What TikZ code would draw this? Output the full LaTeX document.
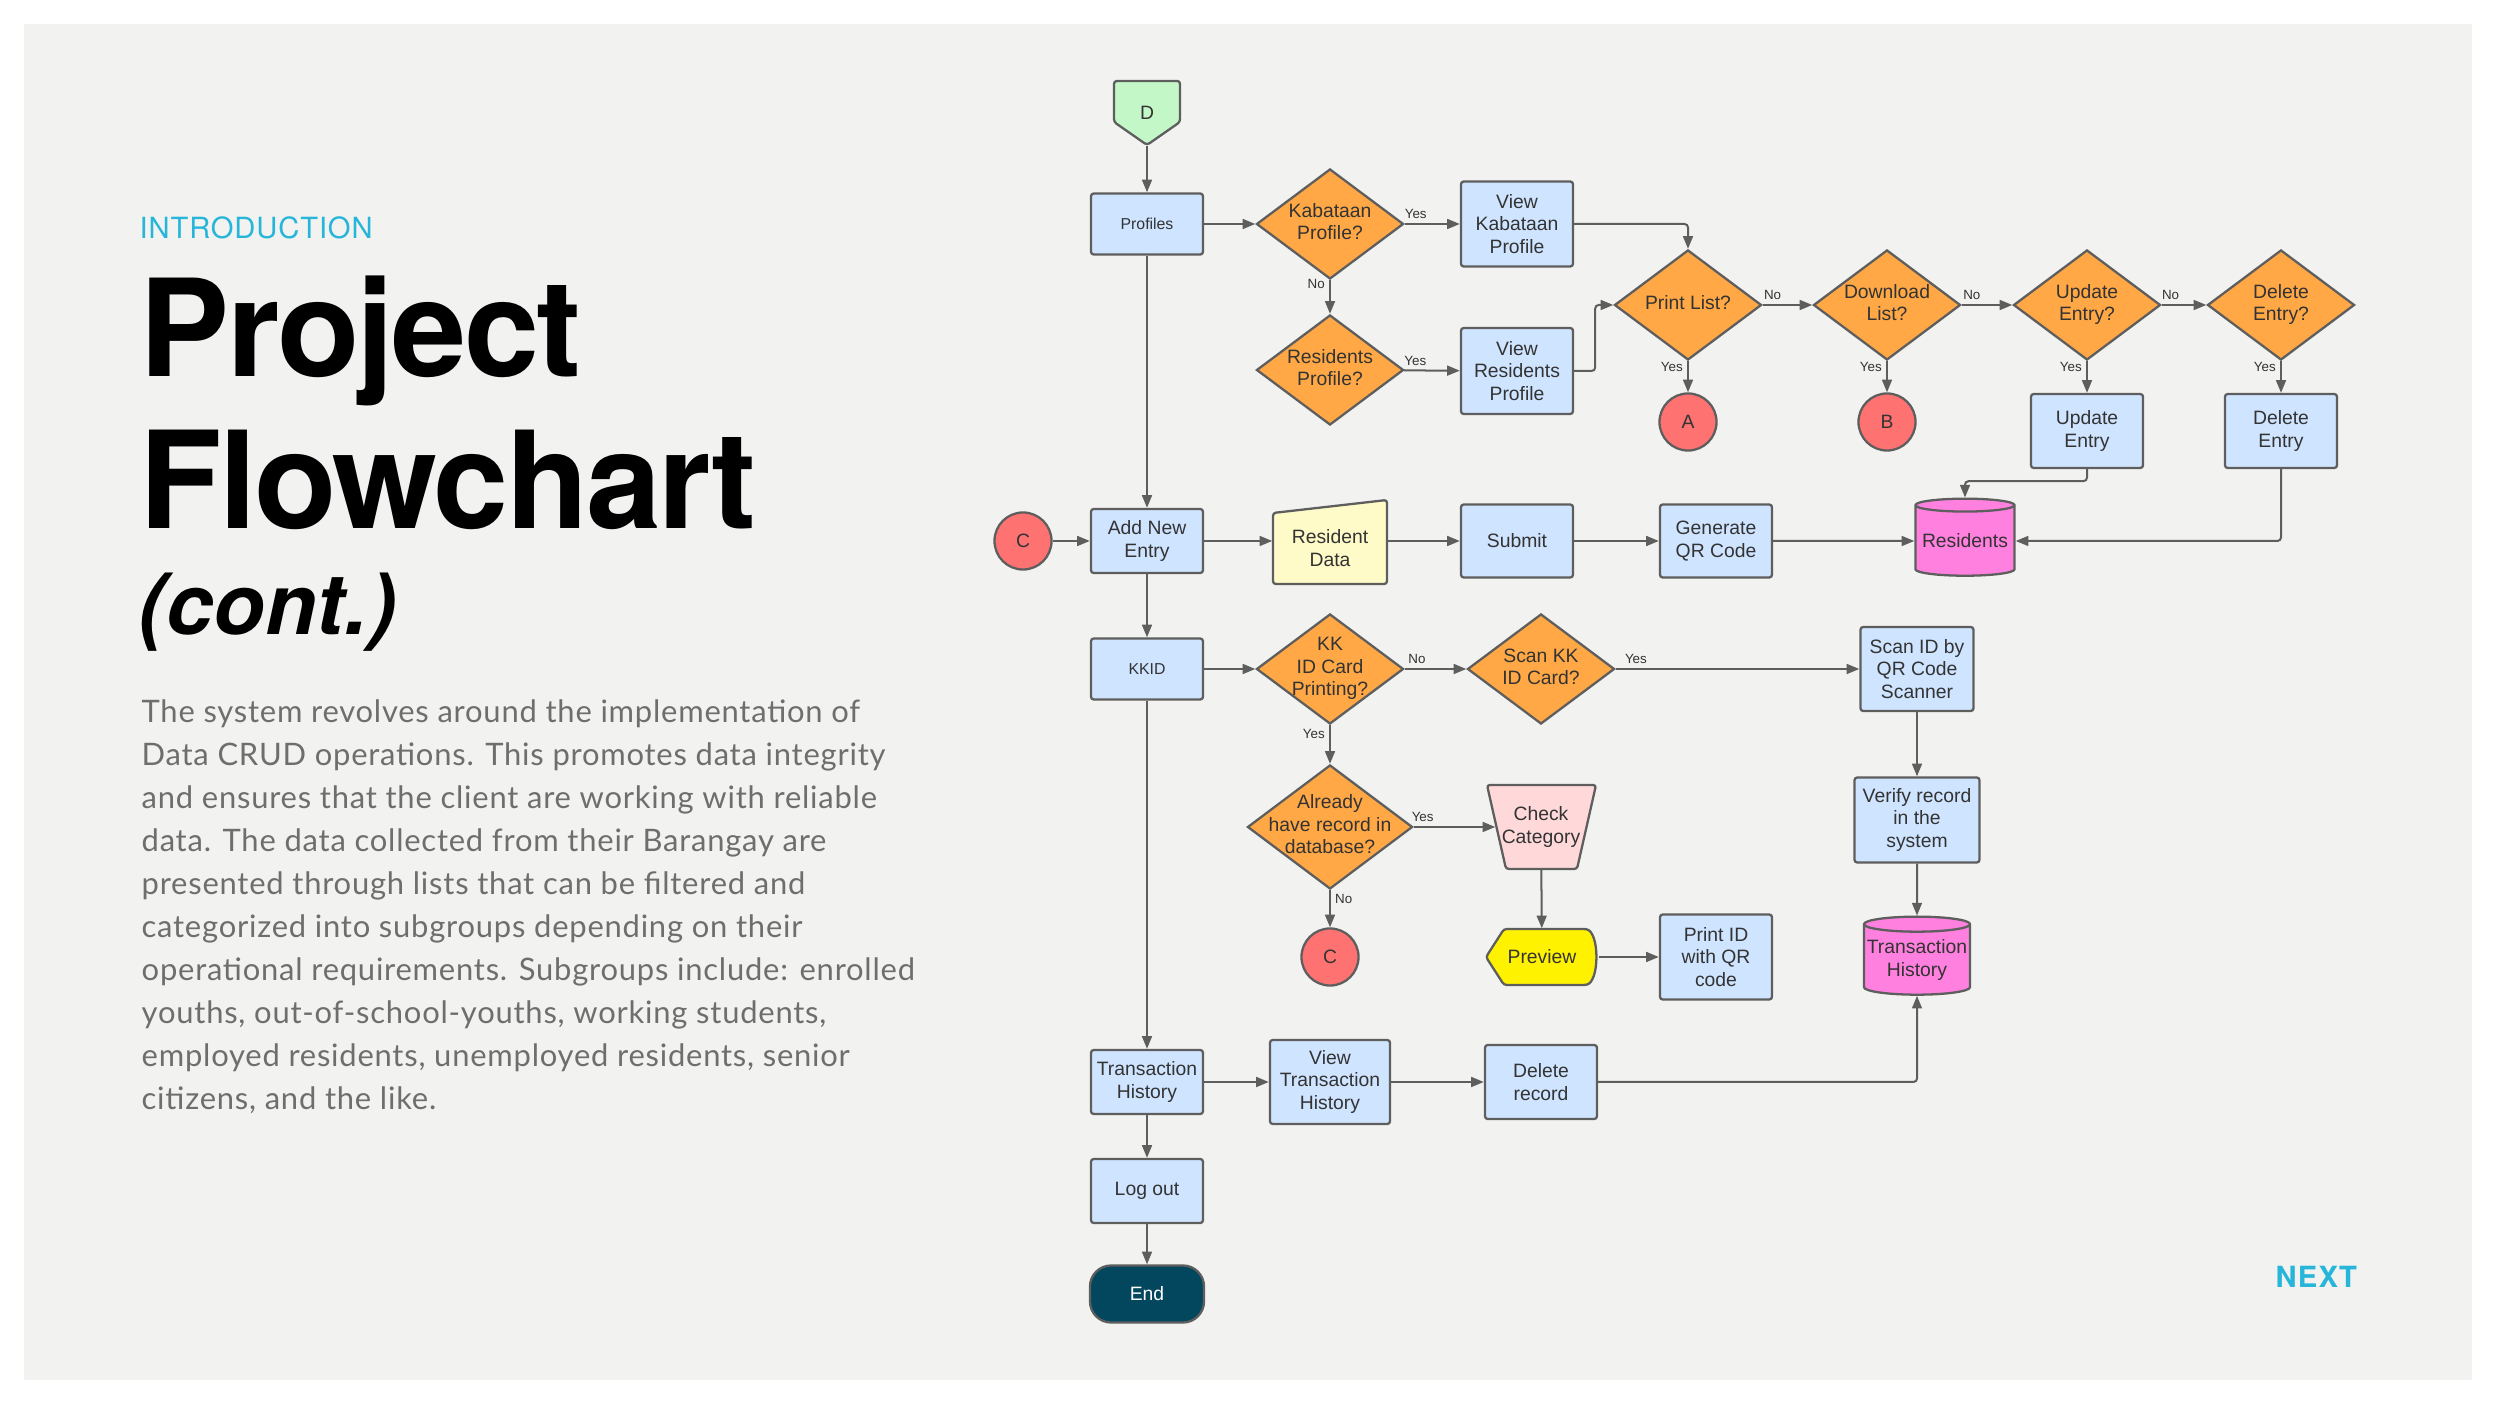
\documentclass[tikz,border=0pt]{standalone}
\usepackage{fontspec}
\setmainfont{Liberation Sans}
\newfontfamily\headfont{TeX Gyre Heros}
\newfontfamily\bodyfont{Lato}[LetterSpace=2.5]
\usetikzlibrary{arrows.meta,shapes.geometric}

\definecolor{panel}{HTML}{F2F2F0}
\definecolor{accent}{HTML}{27B6DA}
\definecolor{bodygray}{HTML}{6E6E6E}
\definecolor{edge}{HTML}{5E5E5E}
\definecolor{txt}{HTML}{333333}
\definecolor{boxblue}{HTML}{CFE4FF}
\definecolor{decor}{HTML}{FFA845}
\definecolor{conred}{HTML}{FF7272}
\definecolor{dbpink}{HTML}{FF80DF}
\definecolor{offgreen}{HTML}{C3F7C8}
\definecolor{inyellow}{HTML}{FFFBC8}
\definecolor{chkpink}{HTML}{FFD9D9}
\definecolor{prevyellow}{HTML}{FFF200}
\definecolor{endblue}{HTML}{03475F}

\newcommand\nf{\fontsize{5.5}{6.35}\selectfont}
\newcommand\dtxt[1]{\makebox[0pt]{\raisebox{-1.2pt}[0pt][0pt]{\begin{tabular}{@{}c@{}}#1\end{tabular}}}}

\tikzset{
  proc/.style={draw=edge, fill=boxblue, line width=0.65pt, rounded corners=0.8pt,
    minimum width=1.12cm, inner sep=1pt, align=center, font=\nf, text=txt},
  dec/.style={diamond, draw=edge, fill=decor, line width=0.65pt, minimum width=1.47cm,
    minimum height=1.1cm, inner sep=0pt, font=\nf, text=txt},
  conn/.style={circle, draw=edge, fill=conred, line width=0.65pt, minimum size=0.57cm,
    inner sep=0pt, font=\nf, text=txt},
  store/.style={cylinder, shape border rotate=90, aspect=0.15, draw=edge, fill=dbpink,
    line width=0.65pt, inner sep=0pt, align=center, font=\nf, text=txt},
  shp/.style={draw=edge, line width=0.65pt, rounded corners=0.8pt},
  bare/.style={inner sep=0pt, align=center, font=\nf, text=txt},
  flow/.style={draw=edge, line width=0.57pt, rounded corners=1pt,
    -{Triangle[length=3.6pt,width=2.8pt]}},
  lab/.style={font=\fontsize{3.8}{4}\selectfont, inner sep=1.2pt, text=txt},
  body/.style={inner sep=0pt, text=bodygray, font=\bodyfont\fontsize{8.8}{12.2}\selectfont},
}

\begin{document}
\begin{tikzpicture}[x=0.01cm, y=-0.01cm]
\useasboundingbox (0,0) rectangle (2496,1404);
\fill[white] (0,0) rectangle (2496,1404);
\fill[panel] (24,24) rectangle (2472,1380);

% left column
\node[anchor=base west, inner sep=0pt, text=accent,
  font=\headfont\fontsize{8.3}{9}\selectfont\addfontfeature{LetterSpace=3}] (intro) at (139,239) {INTRODUCTION};
\node[anchor=base west, inner sep=0pt,
  font=\headfont\bfseries\fontsize{38.4}{40}\selectfont\addfontfeature{LetterSpace=-2}] (ttla) at (139,377) {Project};
\node[anchor=base west, inner sep=0pt,
  font=\headfont\bfseries\fontsize{38.4}{40}\selectfont\addfontfeature{LetterSpace=-2}] (ttlb) at (139,529) {Flowchart};
\node[anchor=base west, inner sep=0pt,
  font=\headfont\bfseries\itshape\fontsize{24}{26}\selectfont] (ttlc) at (138,635) {(cont.)};
\foreach \tline [count=\i] in {{The system revolves around the implementation of},
  {Data CRUD operations. This promotes data integrity},
  {and ensures that the client are working with reliable},
  {data. The data collected from their Barangay are},
  {presented through lists that can be filtered and},
  {categorized into subgroups depending on their},
  {operational requirements. Subgroups include: enrolled},
  {youths, out-of-school-youths, working students,},
  {employed residents, unemployed residents, senior},
  {citizens, and the like.}}
  \node[body, anchor=base west] (body\i) at (141,{723+42.9*(\i-1)}) {\tline};
\node[anchor=base west, inner sep=0pt, text=accent,
  font=\headfont\bfseries\fontsize{8.3}{9}\selectfont\addfontfeature{LetterSpace=4}] (next) at (2275,1288) {NEXT};

% drawn shapes
\filldraw[shp, fill=offgreen] (1147,145) -- (1114,122) -- (1114,81) -- (1180,81) -- (1180,122) -- cycle;
\filldraw[shp, fill=inyellow] (1273,584) -- (1273,513) -- (1387,500) -- (1387,584) -- cycle;
\filldraw[shp, fill=chkpink] (1487,785) -- (1596,785) -- (1577,869) -- (1506,869) -- cycle;
\filldraw[shp, fill=prevyellow] (1486,957) -- (1504,929) -- (1583,929)
  .. controls (1600,930) and (1600,984) .. (1583,985) -- (1504,985) -- cycle;

% nodes
\node[bare, minimum width=0.66cm, minimum height=0.64cm] (dd) at (1147,113) {D};
\node[proc, minimum height=0.61cm, font=\fontsize{4.5}{5}\selectfont] (prof) at (1147,224) {Profiles};
\node[dec] (kab) at (1330,224) {\dtxt{Kabataan\\Profile?}};
\node[proc, minimum height=0.85cm] (vkab) at (1517,224) {View\\Kabataan\\Profile};
\node[dec] (resq) at (1330,370) {\dtxt{Residents\\Profile?}};
\node[proc, minimum height=0.86cm] (vres) at (1517,371) {View\\Residents\\Profile};
\node[dec] (print) at (1688,305) {\dtxt{Print List?}};
\node[dec] (down) at (1887,305) {\dtxt{Download\\List?}};
\node[dec] (updq) at (2087,305) {\dtxt{Update\\Entry?}};
\node[dec] (delq) at (2281,305) {\dtxt{Delete\\Entry?}};
\node[conn] (ca) at (1688,422) {A};
\node[conn] (cb) at (1887,422) {B};
\node[proc, minimum height=0.74cm] (upe) at (2087,431) {Update\\Entry};
\node[proc, minimum height=0.74cm] (dele) at (2281,431) {Delete\\Entry};
\node[store, minimum width=0.99cm, minimum height=0.77cm] (res) at (1965,541) {Residents};
\node[conn] (cc) at (1023,541) {C};
\node[proc, minimum height=0.64cm] (add) at (1147,541) {Add New\\Entry};
\node[bare, minimum width=1.14cm, minimum height=0.7cm] (rd) at (1330,548) {Resident\\Data};
\node[proc, minimum height=0.73cm] (sub) at (1517,541) {Submit};
\node[proc, minimum height=0.73cm] (gen) at (1716,541) {Generate\\QR Code};
\node[proc, minimum height=0.61cm, font=\fontsize{4.5}{5}\selectfont] (kkid) at (1147,669) {KKID};
\node[dec] (kkq) at (1330,669) {\dtxt{KK\\ID Card\\Printing?}};
\node[dec] (scq) at (1541,669) {\dtxt{Scan KK\\ID Card?}};
\node[proc, minimum width=1.13cm, minimum height=0.84cm] (scan) at (1917,669) {Scan ID by\\QR Code\\Scanner};
\node[dec, minimum width=1.65cm, minimum height=1.24cm] (alr) at (1330,827) {\dtxt{Already\\have record in\\database?}};
\node[bare, minimum width=0.9cm, minimum height=0.84cm] (chk) at (1541,827) {Check\\Category};
\node[proc, minimum width=1.25cm, minimum height=0.85cm] (ver) at (1917,820) {Verify record\\in the\\system};
\node[conn] (cd) at (1330,957) {C};
\node[bare, minimum width=1.13cm, minimum height=0.56cm] (prev) at (1542,957) {Preview};
\node[proc, minimum height=0.85cm] (pid) at (1716,957) {Print ID\\with QR\\code};
\node[store, minimum width=1.06cm, minimum height=0.78cm] (thist) at (1917,960) {Transaction\\History};
\node[proc, minimum height=0.64cm] (thb) at (1147,1082) {Transaction\\History};
\node[proc, minimum width=1.2cm, minimum height=0.84cm] (vth) at (1330,1082) {View\\Transaction\\History};
\node[proc, minimum height=0.74cm] (delr) at (1541,1082) {Delete\\record};
\node[proc, minimum height=0.64cm] (logout) at (1147,1191) {Log out};
\node[proc, fill=endblue, text=white, rounded corners=6pt, minimum width=1.14cm, minimum height=0.57cm] (endn) at (1147,1294) {End};

% connectors
\draw[flow] (dd) -- (prof);
\draw[flow] (prof) -- (kab);
\draw[flow] (kab) -- node[lab, above, pos=0.2] {Yes} (vkab);
\draw[flow] (kab) -- node[lab, left, pos=0.1] {No} (resq);
\draw[flow] (resq) -- node[lab, above, pos=0.2] {Yes} (vres);
\draw[flow] (vkab.east) -| (print.north);
\draw[flow] (vres.east) -- ++(21,0) |- (print.west);
\draw[flow] (print) -- node[lab, above, pos=0.2] {No} (down);
\draw[flow] (down) -- node[lab, above, pos=0.2] {No} (updq);
\draw[flow] (updq) -- node[lab, above, pos=0.2] {No} (delq);
\draw[flow] (print) -- node[lab, left, pos=0.18] {Yes} (ca);
\draw[flow] (down) -- node[lab, left, pos=0.18] {Yes} (cb);
\draw[flow] (updq) -- node[lab, left, pos=0.18] {Yes} (upe);
\draw[flow] (delq) -- node[lab, left, pos=0.18] {Yes} (dele);
\draw[flow] (upe.south) -- ++(0,12) -| (res.north);
\draw[flow] (dele.south) |- (res.east);
\draw[flow] (prof) -- (add);
\draw[flow] (cc) -- (add);
\draw[flow] (add) -- (add -| rd.west);
\draw[flow] (rd.east |- sub) -- (sub);
\draw[flow] (sub) -- (gen);
\draw[flow] (gen) -- (res);
\draw[flow] (add) -- (kkid);
\draw[flow] (kkid) -- (kkq);
\draw[flow] (kkq) -- node[lab, above, pos=0.2] {No} (scq);
\draw[flow] (scq) -- node[lab, above, pos=0.083] {Yes} (scan);
\draw[flow] (kkq) -- node[lab, left, pos=0.22] {Yes} (alr);
\draw[flow] (alr) -- node[lab, above, pos=0.11] {Yes} (chk);
\draw[flow] (alr) -- node[lab, right, pos=0.23] {No} (cd);
\draw[flow] (chk) -- (prev);
\draw[flow] (prev) -- (pid);
\draw[flow] (scan) -- (ver);
\draw[flow] (ver) -- (thist);
\draw[flow] (kkid) -- (thb);
\draw[flow] (thb) -- (vth);
\draw[flow] (vth) -- (delr);
\draw[flow] (delr.east) -| (thist.south);
\draw[flow] (thb) -- (logout);
\draw[flow] (logout) -- (endn);
\end{tikzpicture}
\end{document}
